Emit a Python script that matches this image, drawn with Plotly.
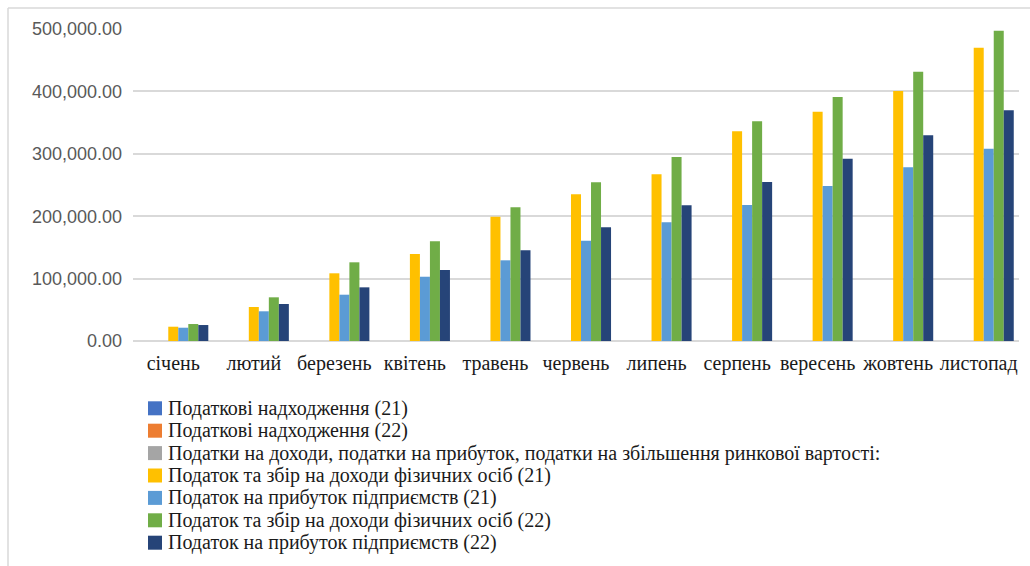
import plotly.graph_objects as go

# Months (categories)
months = ["січень", "лютий", "березень", "квітень", "травень", "червень",
          "липень", "серпень", "вересень", "жовтень", "листопад"]

# Series names
series_names = [
    "Податкові надходження (21)",
    "Податкові надходження (22)",
    "Податки на доходи, податки на прибуток, податки на збільшення ринкової вартості:",
    "Податок та збір на доходи фізичних осіб (21)",
    "Податок на прибуток підприємств (21)",
    "Податок та збір на доходи фізичних осіб (22)",
    "Податок на прибуток підприємств (22)",
]

# Series values (the first three series carry no values)
tax_revenue_21 = [None] * 11
tax_revenue_22 = [None] * 11
income_profit_taxes = [None] * 11
pit_21 = [22900, 54500, 108500, 139400, 199200, 235100, 267100, 336000, 367500, 400600, 470000]
cit_21 = [21300, 47600, 74200, 103000, 129300, 160700, 190200, 218000, 248400, 278300, 308200]
pit_22 = [27200, 70000, 126100, 159800, 214300, 254300, 294900, 352100, 391000, 431600, 497300]
cit_22 = [25600, 59300, 86000, 113800, 145400, 182200, 217500, 254800, 292100, 329600, 369700]

series_values = [tax_revenue_21, tax_revenue_22, income_profit_taxes,
                 pit_21, cit_21, pit_22, cit_22]
colors = ["#4472C4", "#ED7D31", "#A5A5A5", "#FFC000", "#5B9BD5", "#70AD47", "#264478"]

# Y-axis ticks
y_ticks = [0, 100000, 200000, 300000, 400000, 500000]

SERIF = "Liberation Serif"

W, H = 1030, 566
ML, MR, MT, MB = 133, 11, 29, 225
PW, PH = W - ML - MR, H - MT - MB


def px_x(x):
    return (x - ML) / PW


def px_y(y):
    return (H - MB - y) / PH


fig = go.Figure()
for name, vals, col in zip(series_names, series_values, colors):
    fig.add_trace(go.Bar(
        x=months, y=vals, name=name,
        marker=dict(color=col, line=dict(width=0)),
        showlegend=False,
    ))

# Legend drawn as swatches with labels below the plot
shapes = []
annotations = []
row0, row_step = 408.3, 22.4
for i, (name, col) in enumerate(zip(series_names, colors)):
    cy = row0 + i * row_step
    shapes.append(dict(
        type="rect", xref="paper", yref="paper",
        x0=px_x(148), x1=px_x(162), y0=px_y(cy + 7), y1=px_y(cy - 7),
        fillcolor=col, line=dict(width=0),
    ))
    annotations.append(dict(
        xref="paper", yref="paper", x=px_x(166), y=px_y(cy),
        xanchor="left", yanchor="middle", text=name, showarrow=False,
        font=dict(family=SERIF, size=20, color="#1a1a1a"),
    ))

# Outer chart frame (left and top edges)
shapes.append(dict(type="line", xref="paper", yref="paper",
                   x0=px_x(8), x1=px_x(8), y0=px_y(8), y1=px_y(566),
                   line=dict(color="#d9d9d9", width=1.5)))
shapes.append(dict(type="line", xref="paper", yref="paper",
                   x0=px_x(8), x1=px_x(1030), y0=px_y(8), y1=px_y(8),
                   line=dict(color="#d9d9d9", width=1.5)))

fig.update_layout(
    width=W, height=H,
    margin=dict(l=ML, r=MR, t=MT, b=MB),
    paper_bgcolor="white", plot_bgcolor="white",
    barmode="group", bargap=0.13, bargroupgap=0,
    showlegend=False,
    shapes=shapes, annotations=annotations,
    xaxis=dict(
        showgrid=False, showline=False, ticks="",
        tickfont=dict(family=SERIF, size=20, color="#1a1a1a"),
        ticklabelstandoff=8,
    ),
    yaxis=dict(
        range=[0, 500000], tickvals=y_ticks, tickformat=",.2f",
        showgrid=True, gridcolor="#d9d9d9", gridwidth=1.5,
        zeroline=True, zerolinecolor="#d9d9d9", zerolinewidth=1.5,
        showline=False, ticks="",
        tickfont=dict(family="Liberation Sans", size=18, color="#595959"),
        ticklabelstandoff=10,
    ),
)

fig.write_html("out.html")
